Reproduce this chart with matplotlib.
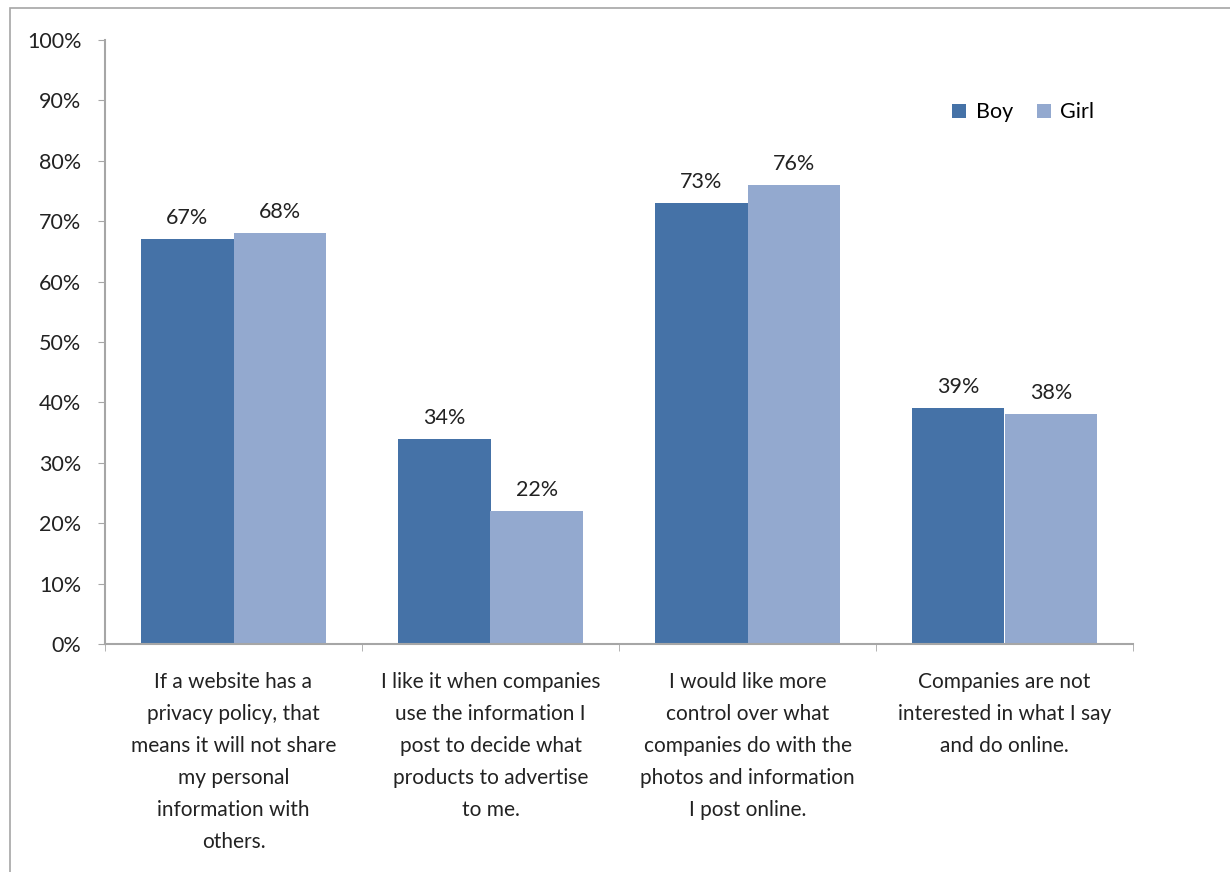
import matplotlib.pyplot as plt
import numpy as np
from matplotlib.patches import Rectangle
from matplotlib.ticker import FuncFormatter, FixedLocator

plt.rcParams['font.family'] = ['Lato', 'DejaVu Sans']

categories = [
    "If a website has a\nprivacy policy, that\nmeans it will not share\nmy personal\ninformation with\nothers.",
    "I like it when companies\nuse the information I\npost to decide what\nproducts to advertise\nto me.",
    "I would like more\ncontrol over what\ncompanies do with the\nphotos and information\nI post online.",
    "Companies are not\ninterested in what I say\nand do online.",
]
boy = [67, 34, 73, 39]
girl = [68, 22, 76, 38]

boy_color = '#4572A7'
girl_color = '#93A9CF'
axis_gray = '#A6A6A6'
text_color = '#222222'

fig = plt.figure(figsize=(12.3, 8.72), dpi=100)

# thin outer frame of the chart object
fig.patches.append(Rectangle((10 / 1230, -0.1), 1.2, 1 - 8 / 872 + 0.1,
                             transform=fig.transFigure, fill=False,
                             edgecolor=axis_gray, linewidth=1.2))

ax = fig.add_axes([105 / 1230, 228 / 872, (1133 - 105) / 1230, (644 - 40) / 872])

x = np.arange(len(categories))
w = 0.36
b1 = ax.bar(x - w / 2, boy, w, color=boy_color, label='Boy')
b2 = ax.bar(x + w / 2, girl, w, color=girl_color, label='Girl')

for bars, vals in ((b1, boy), (b2, girl)):
    for rect, v in zip(bars, vals):
        ax.annotate(f"{v}%", (rect.get_x() + rect.get_width() / 2, v),
                    xytext=(0, 8), textcoords='offset points',
                    ha='center', va='bottom', fontsize=15.5, color=text_color)

ax.set_xlim(-0.5, len(categories) - 0.5)
ax.set_ylim(0, 100)
ax.yaxis.set_major_locator(FixedLocator(range(0, 101, 10)))
ax.yaxis.set_major_formatter(FuncFormatter(lambda v, p: f"{int(v)}%"))

ax.set_xticks(x)
ax.set_xticklabels(categories, fontsize=15, linespacing=1.75, color=text_color)
ax.tick_params(axis='x', length=0, pad=20)
ax.xaxis.set_minor_locator(FixedLocator(np.arange(-0.5, len(categories), 1)))
ax.tick_params(axis='x', which='minor', length=5, color=axis_gray)
ax.tick_params(axis='y', length=5, color=axis_gray, labelsize=15.5,
               labelcolor=text_color, pad=12)

for side in ('top', 'right'):
    ax.spines[side].set_visible(False)
for side in ('left', 'bottom'):
    ax.spines[side].set_color(axis_gray)
    ax.spines[side].set_linewidth(1.5)

ax.legend(loc='center left', bbox_to_anchor=(0.805, 0.88), ncol=2,
          frameon=False, fontsize=15.5, handlelength=0.65, handleheight=0.65,
          handletextpad=0.45, columnspacing=1.1)

fig.savefig('out.png', dpi=100)
